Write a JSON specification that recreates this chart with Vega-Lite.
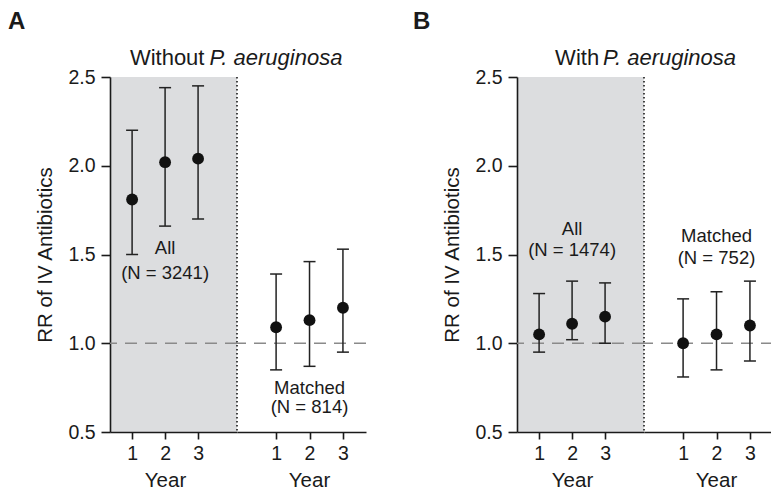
{
  "$schema": "https://vega.github.io/schema/vega-lite/v6.json",
  "background": "white",
  "padding": {"left": 7, "top": 9, "right": 0, "bottom": 0},
  "config": {
    "view": {"stroke": null},
    "font": "Liberation Sans",
    "text": {"fontWeight": "normal"},
    "axis": {
      "grid": false,
      "zindex": 1,
      "domainColor": "#1a1a1a",
      "domainWidth": 1.6,
      "tickColor": "#1a1a1a",
      "tickWidth": 1.6,
      "labelFont": "Liberation Sans",
      "labelFontSize": 19.5,
      "labelColor": "#1a1a1a",
      "titleFont": "Liberation Sans",
      "titleFontSize": 20.5,
      "titleFontWeight": "normal",
      "titleColor": "#1a1a1a"
    },
    "axisX": {"tickSize": 7, "labelPadding": 5, "titlePadding": 8, "labelAngle": 0},
    "axisY": {"tickSize": 9, "labelPadding": 6, "titlePadding": 12},
    "title": {"font": "Liberation Sans", "fontSize": 24, "fontWeight": "bold", "color": "#1a1a1a"}
  },
  "datasets": {
    "rr": [
      {"panel": "A", "group": "All", "year": 1, "rr": 1.81, "lo": 1.50, "hi": 2.20},
      {"panel": "A", "group": "All", "year": 2, "rr": 2.02, "lo": 1.66, "hi": 2.44},
      {"panel": "A", "group": "All", "year": 3, "rr": 2.04, "lo": 1.70, "hi": 2.45},
      {"panel": "A", "group": "Matched", "year": 1, "rr": 1.09, "lo": 0.85, "hi": 1.39},
      {"panel": "A", "group": "Matched", "year": 2, "rr": 1.13, "lo": 0.87, "hi": 1.46},
      {"panel": "A", "group": "Matched", "year": 3, "rr": 1.20, "lo": 0.95, "hi": 1.53},
      {"panel": "B", "group": "All", "year": 1, "rr": 1.05, "lo": 0.95, "hi": 1.28},
      {"panel": "B", "group": "All", "year": 2, "rr": 1.11, "lo": 1.02, "hi": 1.35},
      {"panel": "B", "group": "All", "year": 3, "rr": 1.15, "lo": 1.00, "hi": 1.34},
      {"panel": "B", "group": "Matched", "year": 1, "rr": 1.00, "lo": 0.81, "hi": 1.25},
      {"panel": "B", "group": "Matched", "year": 2, "rr": 1.05, "lo": 0.85, "hi": 1.29},
      {"panel": "B", "group": "Matched", "year": 3, "rr": 1.10, "lo": 0.90, "hi": 1.35}
    ]
  },
  "spacing": 45,
  "hconcat": [
    {
      "title": {"text": "A", "anchor": "start", "frame": "bounds", "offset": 13, "dx": -28},
      "spacing": 0,
      "bounds": "flush",
      "hconcat": [
        {
          "width": 127,
          "height": 355,
          "view": {"fill": "#dcdddf", "stroke": null},
          "data": {"name": "rr"},
          "transform": [{"filter": "datum.panel === 'A' && datum.group === 'All'"}],
          "encoding": {
            "x": {"field": "year", "type": "quantitative", "scale": {"domain": [0.33, 4.18], "nice": false, "zero": false}, "axis": {"values": [1, 2, 3], "format": "d", "title": "Year", "titleX": 55}},
            "y": {"field": "rr", "type": "quantitative", "scale": {"domain": [0.5, 2.5], "nice": false, "zero": false}, "axis": {"values": [0.5, 1, 1.5, 2, 2.5], "format": ".1f", "title": "RR of IV Antibiotics"}}
          },
          "layer": [
            {"transform": [{"filter": "datum.year === 1"}], "mark": {"type": "rule", "color": "#8a8a8a", "strokeWidth": 1.5, "strokeDash": [12, 8]}, "encoding": {"x": null, "y": {"datum": 1, "type": "quantitative", "title": "RR of IV Antibiotics"}}},
            {"transform": [{"filter": "datum.year === 1"}], "mark": {"type": "rule", "color": "#1a1a1a", "strokeWidth": 1.6, "strokeDash": [1.5, 2.5]}, "encoding": {"x": {"datum": 4.18, "type": "quantitative", "title": "Year"}, "y": null}},
            {"mark": {"type": "rule", "color": "#222", "strokeWidth": 1.5}, "encoding": {"y": {"field": "lo", "type": "quantitative"}, "y2": {"field": "hi"}}},
            {"mark": {"type": "tick", "orient": "horizontal", "size": 12, "thickness": 1.5, "color": "#222", "opacity": 1}, "encoding": {"y": {"field": "lo", "type": "quantitative"}}},
            {"mark": {"type": "tick", "orient": "horizontal", "size": 12, "thickness": 1.5, "color": "#222", "opacity": 1}, "encoding": {"y": {"field": "hi", "type": "quantitative"}}},
            {"mark": {"type": "circle", "size": 140, "color": "#111", "opacity": 1}},
            {"transform": [{"filter": "datum.year === 1"}], "mark": {"type": "text", "text": "All", "fontSize": 18.5, "color": "#1a1a1a", "baseline": "middle"}, "encoding": {"x": {"datum": 2, "type": "quantitative", "title": "Year"}, "y": {"datum": 1.534, "type": "quantitative", "title": "RR of IV Antibiotics"}}},
            {"transform": [{"filter": "datum.year === 1"}], "mark": {"type": "text", "text": "(N = 3241)", "fontSize": 18.5, "color": "#1a1a1a", "baseline": "middle"}, "encoding": {"x": {"datum": 2, "type": "quantitative", "title": "Year"}, "y": {"datum": 1.396, "type": "quantitative", "title": "RR of IV Antibiotics"}}},
            {"transform": [{"filter": "datum.year === 1"}], "mark": {"type": "text", "text": "Without", "fontSize": 22, "color": "#1a1a1a", "align": "right", "baseline": "alphabetic", "dx": -2.5}, "encoding": {"x": {"datum": 3.27, "type": "quantitative", "title": "Year"}, "y": {"datum": 2.568, "type": "quantitative", "title": "RR of IV Antibiotics"}}},
            {"transform": [{"filter": "datum.year === 1"}], "mark": {"type": "text", "text": "P. aeruginosa", "fontSize": 22, "fontStyle": "italic", "color": "#1a1a1a", "align": "left", "baseline": "alphabetic", "dx": 2.5}, "encoding": {"x": {"datum": 3.27, "type": "quantitative", "title": "Year"}, "y": {"datum": 2.568, "type": "quantitative", "title": "RR of IV Antibiotics"}}}
          ]
        },
        {
          "width": 129,
          "height": 355,
          "data": {"name": "rr"},
          "transform": [{"filter": "datum.panel === 'A' && datum.group === 'Matched'"}],
          "encoding": {
            "x": {"field": "year", "type": "quantitative", "scale": {"domain": [-0.17, 3.69], "nice": false, "zero": false}, "axis": {"values": [1, 2, 3], "format": "d", "title": "Year", "titleX": 72}},
            "y": {"field": "rr", "type": "quantitative", "scale": {"domain": [0.5, 2.5], "nice": false, "zero": false}, "axis": null}
          },
          "layer": [
            {"transform": [{"filter": "datum.year === 1"}], "mark": {"type": "rule", "color": "#8a8a8a", "strokeWidth": 1.5, "strokeDash": [12, 8]}, "encoding": {"x": null, "y": {"datum": 1, "type": "quantitative", "axis": null}}},
            {"mark": {"type": "rule", "color": "#222", "strokeWidth": 1.5}, "encoding": {"y": {"field": "lo", "type": "quantitative", "axis": null}, "y2": {"field": "hi"}}},
            {"mark": {"type": "tick", "orient": "horizontal", "size": 12, "thickness": 1.5, "color": "#222", "opacity": 1}, "encoding": {"y": {"field": "lo", "type": "quantitative", "axis": null}}},
            {"mark": {"type": "tick", "orient": "horizontal", "size": 12, "thickness": 1.5, "color": "#222", "opacity": 1}, "encoding": {"y": {"field": "hi", "type": "quantitative", "axis": null}}},
            {"mark": {"type": "circle", "size": 140, "color": "#111", "opacity": 1}},
            {"transform": [{"filter": "datum.year === 1"}], "mark": {"type": "text", "text": "Matched", "fontSize": 18.5, "color": "#1a1a1a", "baseline": "middle"}, "encoding": {"x": {"datum": 2, "type": "quantitative", "title": "Year"}, "y": {"datum": 0.748, "type": "quantitative", "axis": null}}},
            {"transform": [{"filter": "datum.year === 1"}], "mark": {"type": "text", "text": "(N = 814)", "fontSize": 18.5, "color": "#1a1a1a", "baseline": "middle"}, "encoding": {"x": {"datum": 2, "type": "quantitative", "title": "Year"}, "y": {"datum": 0.641, "type": "quantitative", "axis": null}}}
          ]
        }
      ]
    },
    {
      "title": {"text": "B", "anchor": "start", "frame": "bounds", "offset": 13, "dx": -30},
      "spacing": 0,
      "bounds": "flush",
      "hconcat": [
        {
          "width": 127,
          "height": 355,
          "view": {"fill": "#dcdddf", "stroke": null},
          "data": {"name": "rr"},
          "transform": [{"filter": "datum.panel === 'B' && datum.group === 'All'"}],
          "encoding": {
            "x": {"field": "year", "type": "quantitative", "scale": {"domain": [0.33, 4.18], "nice": false, "zero": false}, "axis": {"values": [1, 2, 3], "format": "d", "title": "Year", "titleX": 55}},
            "y": {"field": "rr", "type": "quantitative", "scale": {"domain": [0.5, 2.5], "nice": false, "zero": false}, "axis": {"values": [0.5, 1, 1.5, 2, 2.5], "format": ".1f", "title": "RR of IV Antibiotics"}}
          },
          "layer": [
            {"transform": [{"filter": "datum.year === 1"}], "mark": {"type": "rule", "color": "#8a8a8a", "strokeWidth": 1.5, "strokeDash": [12, 8]}, "encoding": {"x": null, "y": {"datum": 1, "type": "quantitative", "title": "RR of IV Antibiotics"}}},
            {"transform": [{"filter": "datum.year === 1"}], "mark": {"type": "rule", "color": "#1a1a1a", "strokeWidth": 1.6, "strokeDash": [1.5, 2.5]}, "encoding": {"x": {"datum": 4.18, "type": "quantitative", "title": "Year"}, "y": null}},
            {"mark": {"type": "rule", "color": "#222", "strokeWidth": 1.5}, "encoding": {"y": {"field": "lo", "type": "quantitative"}, "y2": {"field": "hi"}}},
            {"mark": {"type": "tick", "orient": "horizontal", "size": 12, "thickness": 1.5, "color": "#222", "opacity": 1}, "encoding": {"y": {"field": "lo", "type": "quantitative"}}},
            {"mark": {"type": "tick", "orient": "horizontal", "size": 12, "thickness": 1.5, "color": "#222", "opacity": 1}, "encoding": {"y": {"field": "hi", "type": "quantitative"}}},
            {"mark": {"type": "circle", "size": 140, "color": "#111", "opacity": 1}},
            {"transform": [{"filter": "datum.year === 1"}], "mark": {"type": "text", "text": "All", "fontSize": 18.5, "color": "#1a1a1a", "baseline": "middle"}, "encoding": {"x": {"datum": 2, "type": "quantitative", "title": "Year"}, "y": {"datum": 1.646, "type": "quantitative", "title": "RR of IV Antibiotics"}}},
            {"transform": [{"filter": "datum.year === 1"}], "mark": {"type": "text", "text": "(N = 1474)", "fontSize": 18.5, "color": "#1a1a1a", "baseline": "middle"}, "encoding": {"x": {"datum": 2, "type": "quantitative", "title": "Year"}, "y": {"datum": 1.525, "type": "quantitative", "title": "RR of IV Antibiotics"}}},
            {"transform": [{"filter": "datum.year === 1"}], "mark": {"type": "text", "text": "With", "fontSize": 22, "color": "#1a1a1a", "align": "right", "baseline": "alphabetic", "dx": -2}, "encoding": {"x": {"datum": 2.88, "type": "quantitative", "title": "Year"}, "y": {"datum": 2.568, "type": "quantitative", "title": "RR of IV Antibiotics"}}},
            {"transform": [{"filter": "datum.year === 1"}], "mark": {"type": "text", "text": "P. aeruginosa", "fontSize": 22, "fontStyle": "italic", "color": "#1a1a1a", "align": "left", "baseline": "alphabetic", "dx": 2}, "encoding": {"x": {"datum": 2.88, "type": "quantitative", "title": "Year"}, "y": {"datum": 2.568, "type": "quantitative", "title": "RR of IV Antibiotics"}}}
          ]
        },
        {
          "width": 129,
          "height": 355,
          "data": {"name": "rr"},
          "transform": [{"filter": "datum.panel === 'B' && datum.group === 'Matched'"}],
          "encoding": {
            "x": {"field": "year", "type": "quantitative", "scale": {"domain": [-0.17, 3.69], "nice": false, "zero": false}, "axis": {"values": [1, 2, 3], "format": "d", "title": "Year", "titleX": 72}},
            "y": {"field": "rr", "type": "quantitative", "scale": {"domain": [0.5, 2.5], "nice": false, "zero": false}, "axis": null}
          },
          "layer": [
            {"transform": [{"filter": "datum.year === 1"}], "mark": {"type": "rule", "color": "#8a8a8a", "strokeWidth": 1.5, "strokeDash": [12, 8]}, "encoding": {"x": null, "y": {"datum": 1, "type": "quantitative", "axis": null}}},
            {"mark": {"type": "rule", "color": "#222", "strokeWidth": 1.5}, "encoding": {"y": {"field": "lo", "type": "quantitative", "axis": null}, "y2": {"field": "hi"}}},
            {"mark": {"type": "tick", "orient": "horizontal", "size": 12, "thickness": 1.5, "color": "#222", "opacity": 1}, "encoding": {"y": {"field": "lo", "type": "quantitative", "axis": null}}},
            {"mark": {"type": "tick", "orient": "horizontal", "size": 12, "thickness": 1.5, "color": "#222", "opacity": 1}, "encoding": {"y": {"field": "hi", "type": "quantitative", "axis": null}}},
            {"mark": {"type": "circle", "size": 140, "color": "#111", "opacity": 1}},
            {"transform": [{"filter": "datum.year === 1"}], "mark": {"type": "text", "text": "Matched", "fontSize": 18.5, "color": "#1a1a1a", "baseline": "middle"}, "encoding": {"x": {"datum": 2, "type": "quantitative", "title": "Year"}, "y": {"datum": 1.604, "type": "quantitative", "axis": null}}},
            {"transform": [{"filter": "datum.year === 1"}], "mark": {"type": "text", "text": "(N = 752)", "fontSize": 18.5, "color": "#1a1a1a", "baseline": "middle"}, "encoding": {"x": {"datum": 2, "type": "quantitative", "title": "Year"}, "y": {"datum": 1.48, "type": "quantitative", "axis": null}}}
          ]
        }
      ]
    }
  ]
}
